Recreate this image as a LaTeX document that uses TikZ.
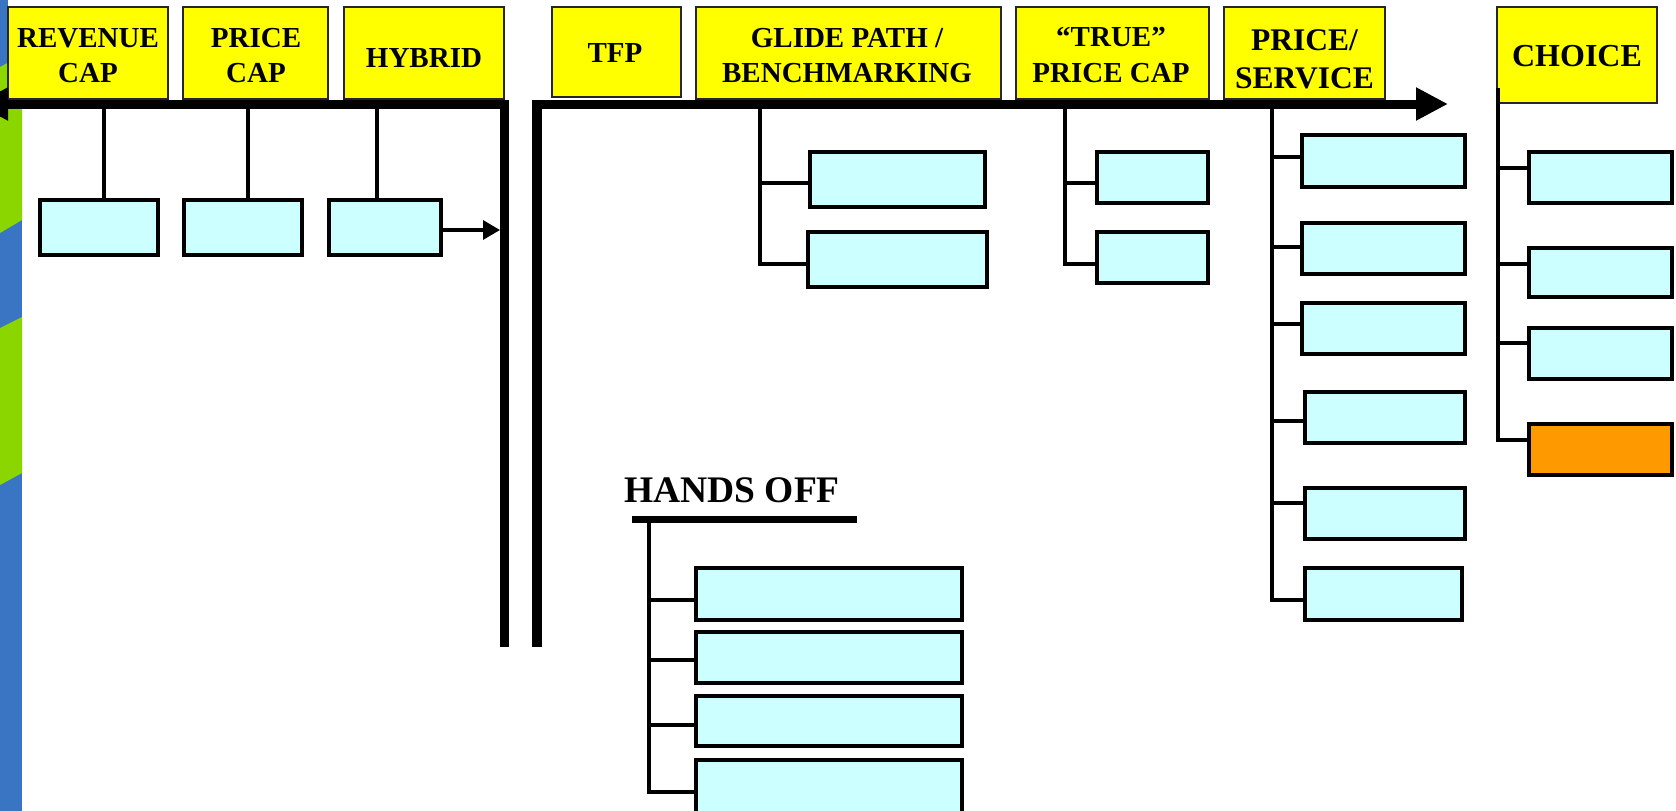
\documentclass[tikz,border=0pt]{standalone}
\usepackage{fontspec}
\setmainfont{Liberation Serif}
\usetikzlibrary{arrows.meta,fit}
\definecolor{hyel}{RGB}{255,255,0}
\definecolor{lcyan}{RGB}{204,255,255}
\definecolor{orng}{RGB}{255,153,0}
\definecolor{sblue}{RGB}{58,117,196}
\definecolor{sgreen}{RGB}{140,214,0}
\begin{document}
\begin{tikzpicture}[x=1pt,y=-1pt,
  hdr/.style={draw=black!85, line width=2.4pt, fill=hyel, inner sep=0pt},
  htxt/.style={anchor=base, inner sep=0pt, font=\fontsize{29}{35}\selectfont\bfseries},
  cbox/.style={draw=black, line width=3.4pt, fill=lcyan, inner sep=0pt},
  obox/.style={cbox, fill=orng},
  conn/.style={draw=black, line width=3.3pt},
  mainline/.style={draw=black, line width=9pt},
  bigtip/.style={-{Triangle[length=32pt,width=31pt]}},
  smalltip/.style={-{Triangle[length=17pt,width=19pt]}}
]
\clip (0,0) rectangle (1676,811);
\fill[white] (0,0) rectangle (1676,811);
% left strip
\fill[sblue] (0,0) rectangle (22,811);
\fill[sgreen] (0,67) -- (22,55) -- (22,220) -- (0,233) -- cycle;
\fill[sgreen] (0,328) -- (22,317) -- (22,473) -- (0,485) -- cycle;
\fill[white] (8,0) rectangle (22,7);

% headers
\node[hdr, fit={(8,7)(168,99)}] (rev) {};
\node[htxt] (rev1) at (88,47) {REVENUE};
\node[htxt] (rev2) at (88,82) {CAP};
\node[hdr, fit={(183,7)(328,99)}] (pc) {};
\node[htxt] (pc1) at (256,47) {PRICE};
\node[htxt] (pc2) at (256,82) {CAP};
\node[hdr, fit={(344,7)(504,99)}] (hyb) {};
\node[htxt] (hyb1) at (424,67.5) {HYBRID};
\node[hdr, fit={(552,7)(681,97)}] (tfp) {};
\node[htxt] (tfp1) at (615,62.5) {TFP};
\node[hdr, fit={(696,7)(1001,99)}] (glide) {};
\node[htxt] (glide1) at (847,47.5) {GLIDE PATH /};
\node[htxt] (glide2) at (847,82.5) {BENCHMARKING};
\node[hdr, fit={(1016,7)(1209,99)}] (true) {};
\node[htxt] (true1) at (1111,46.5) {“TRUE”};
\node[htxt] (true2) at (1111,82.3) {PRICE CAP};
\node[hdr, fit={(1224,7)(1385,99)}] (ps) {};
\node[htxt, font=\fontsize{31.5}{38}\selectfont\bfseries] (ps1) at (1304.5,50) {PRICE/};
\node[htxt, font=\fontsize{31.5}{38}\selectfont\bfseries] (ps2) at (1304.5,88) {SERVICE};
\node[hdr, fit={(1497,7)(1657,103)}] (choice) {};
\node[htxt, font=\fontsize{32}{38}\selectfont\bfseries] (choice1) at (1577,66.5) {CHOICE};

% main axes
\coordinate (LR) at (509,104);
\coordinate (LL) at (-24,104);
\draw[mainline, bigtip] (LR) -- (LL);
\coordinate (VLt) at (504.5,99.5);
\coordinate (VLb) at (504.5,647);
\draw[mainline] (VLt) -- (VLb);
\coordinate (VLedge) at (500,0);

\coordinate (RL) at (532,104);
\coordinate (RR) at (1448,104);
\draw[mainline, bigtip] (RL) -- (RR);
\coordinate (VRt) at (537,104);
\coordinate (VRb) at (537,647);
\draw[draw=black, line width=10pt] (VRt) -- (VRb);

% left boxes
\node[cbox, fit={(40,200)(158,255)}] (r1) {};
\node[cbox, fit={(184,200)(302,255)}] (r2) {};
\node[cbox, fit={(329,200)(441,255)}] (r3) {};
\coordinate (s1) at (104,108);
\coordinate (s2) at (248,108);
\coordinate (s3) at (377,108);
\draw[conn] (s1) -- (s1 |- r1.north);
\draw[conn] (s2) -- (s2 |- r2.north);
\draw[conn] (s3) -- (s3 |- r3.north);
\coordinate (r3a) at (441,230);
\draw[conn, smalltip] (r3a) -- (r3a -| VLedge);

% glide path group
\node[cbox, fit={(810,152)(985,207)}] (g1) {};
\node[cbox, fit={(808,232)(987,287)}] (g2) {};
\coordinate (gt) at (760,108);
\coordinate (gb1) at (760,183);
\coordinate (gb2) at (760,264);
\draw[conn] (gt) -- (gb2) -- (gb2 -| g2.west);
\draw[conn] (gb1) -- (gb1 -| g1.west);

% true price cap group
\node[cbox, fit={(1097,152)(1208,203)}] (t1) {};
\node[cbox, fit={(1097,232)(1208,283)}] (t2) {};
\coordinate (tt) at (1065,108);
\coordinate (tb1) at (1065,183);
\coordinate (tb2) at (1065,264);
\draw[conn] (tt) -- (tb2) -- (tb2 -| t2.west);
\draw[conn] (tb1) -- (tb1 -| t1.west);

% price/service group
\node[cbox, fit={(1302,135)(1465,187)}] (p1) {};
\node[cbox, fit={(1302,223)(1465,274)}] (p2) {};
\node[cbox, fit={(1302,303)(1465,354)}] (p3) {};
\node[cbox, fit={(1305,392)(1465,443)}] (p4) {};
\node[cbox, fit={(1305,488)(1465,539)}] (p5) {};
\node[cbox, fit={(1305,568)(1462,620)}] (p6) {};
\coordinate (pt) at (1272,108);
\coordinate (pb1) at (1272,157);
\coordinate (pb2) at (1272,247);
\coordinate (pb3) at (1272,324);
\coordinate (pb4) at (1272,421);
\coordinate (pb5) at (1272,503);
\coordinate (pb6) at (1272,600);
\draw[conn] (pt) -- (pb6) -- (pb6 -| p6.west);
\draw[conn] (pb1) -- (pb1 -| p1.west);
\draw[conn] (pb2) -- (pb2 -| p2.west);
\draw[conn] (pb3) -- (pb3 -| p3.west);
\draw[conn] (pb4) -- (pb4 -| p4.west);
\draw[conn] (pb5) -- (pb5 -| p5.west);

% choice group
\node[cbox, fit={(1529,152)(1672,203)}] (c1) {};
\node[cbox, fit={(1529,248)(1672,297)}] (c2) {};
\node[cbox, fit={(1529,328)(1672,379)}] (c3) {};
\node[obox, fit={(1529,424)(1672,475)}] (c4) {};
\coordinate (ct) at (1498,88);
\coordinate (cb1) at (1498,168);
\coordinate (cb2) at (1498,264);
\coordinate (cb3) at (1498,343);
\coordinate (cb4) at (1498,440);
\draw[conn] (ct) -- (cb4) -- (cb4 -| c4.west);
\draw[conn] (cb1) -- (cb1 -| c1.west);
\draw[conn] (cb2) -- (cb2 -| c2.west);
\draw[conn] (cb3) -- (cb3 -| c3.west);

% hands off group
\node[anchor=base west, inner sep=0pt, font=\fontsize{37.5}{40}\selectfont\bfseries] (hands) at (624,502) {HANDS OFF};
\coordinate (hbl) at (632,519.5);
\coordinate (hbr) at (857,519.5);
\draw[draw=black, line width=7pt] (hbl) -- (hbr);
\node[cbox, fit={(696,568)(962,620)}] (h1) {};
\node[cbox, fit={(696,632)(962,683)}] (h2) {};
\node[cbox, fit={(696,696)(962,746)}] (h3) {};
\node[cbox, fit={(696,760)(962,816)}] (h4) {};
\coordinate (ht) at (649,523);
\coordinate (hb1) at (649,600);
\coordinate (hb2) at (649,660);
\coordinate (hb3) at (649,725);
\coordinate (hb4) at (649,792);
\draw[conn] (ht) -- (hb4) -- (hb4 -| h4.west);
\draw[conn] (hb1) -- (hb1 -| h1.west);
\draw[conn] (hb2) -- (hb2 -| h2.west);
\draw[conn] (hb3) -- (hb3 -| h3.west);
\end{tikzpicture}
\end{document}
